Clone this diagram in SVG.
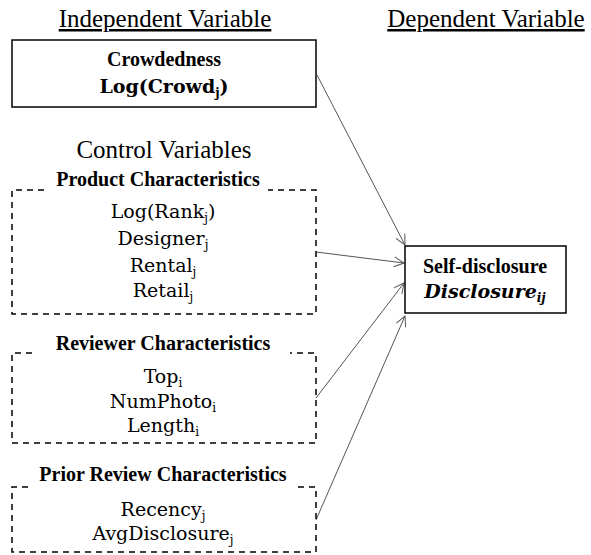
<svg xmlns="http://www.w3.org/2000/svg" width="591" height="555" viewBox="0 0 591 555">
<defs>
<marker id="arr" viewBox="0 0 12 12" refX="11" refY="6" markerWidth="12" markerHeight="12" markerUnits="userSpaceOnUse" orient="auto">
<path d="M1,1 L11,6 L1,11" fill="none" stroke="#555" stroke-width="1"/>
</marker>
<style>
.title{font-family:"Liberation Serif",serif;font-size:25px;fill:#000;text-anchor:middle}
.u{text-decoration:underline}
.bold{font-family:"Liberation Serif",serif;font-size:20px;font-weight:bold;fill:#000;text-anchor:middle}
.item{font-family:"DejaVu Serif","Liberation Serif",serif;font-size:19px;fill:#000;text-anchor:middle}
.mathb{font-family:"DejaVu Serif","Liberation Serif",serif;font-size:19px;font-weight:bold;fill:#000;text-anchor:middle}
.sub{font-size:12px}
.solid{fill:#fff;stroke:#000;stroke-width:1.5}
.dash{fill:none;stroke:#000;stroke-width:1.5;stroke-dasharray:6 5}
.conn{stroke:#555;stroke-width:1;fill:none;marker-end:url(#arr)}
</style>
</defs>
<rect width="591" height="555" fill="#fff"/>

<g id="headers">
<text class="title u" x="165" y="27">Independent Variable</text>
<text class="title u" x="486" y="27">Dependent Variable</text>
<text class="title" x="164" y="158">Control Variables</text>
</g>

<g id="connectors">
<line class="conn" x1="317" y1="75" x2="405" y2="245"/>
<line class="conn" x1="316" y1="252" x2="404" y2="263"/>
<line class="conn" x1="316" y1="398" x2="404" y2="283"/>
<line class="conn" x1="316" y1="520" x2="405" y2="316"/>
</g>

<g id="crowdedness">
<rect class="solid" x="12" y="40" width="304" height="67"/>
<text class="bold" x="164" y="66">Crowdedness</text>
<text class="mathb" x="164" y="93">Log(Crowd<tspan class="sub" dy="4">j</tspan><tspan dy="-4">)</tspan></text>
</g>

<g id="product">
<path class="dash" d="M44,190 H12 V314 H316 V190 H268"/>
<text class="bold" x="158" y="186">Product Characteristics</text>
<text class="item" x="163" y="218">Log(Rank<tspan class="sub" dy="4">j</tspan><tspan dy="-4">)</tspan></text>
<text class="item" x="163" y="245">Designer<tspan class="sub" dy="4">j</tspan></text>
<text class="item" x="163" y="272">Rental<tspan class="sub" dy="4">j</tspan></text>
<text class="item" x="163" y="297">Retail<tspan class="sub" dy="4">j</tspan></text>
</g>

<g id="reviewer">
<path class="dash" d="M32,353 H12 V443 H316 V353 H290"/>
<text class="bold" x="163" y="350">Reviewer Characteristics</text>
<text class="item" x="163" y="383">Top<tspan class="sub" dy="4">i</tspan></text>
<text class="item" x="163" y="408">NumPhoto<tspan class="sub" dy="4">i</tspan></text>
<text class="item" x="163" y="432">Length<tspan class="sub" dy="4">i</tspan></text>
</g>

<g id="prior">
<path class="dash" d="M28,487 H12 V552 H316 V487 H298"/>
<text class="bold" x="163" y="481">Prior Review Characteristics</text>
<text class="item" x="163" y="516">Recency<tspan class="sub" dy="4">j</tspan></text>
<text class="item" x="163" y="540">AvgDisclosure<tspan class="sub" dy="4">j</tspan></text>
</g>

<g id="selfdisclosure">
<rect class="solid" x="405" y="246" width="161" height="67"/>
<text class="bold" x="485" y="273">Self-disclosure</text>
<text class="mathb" x="485" y="298" font-style="italic">Disclosure<tspan class="sub" dy="4">ij</tspan></text>
</g>
</svg>
